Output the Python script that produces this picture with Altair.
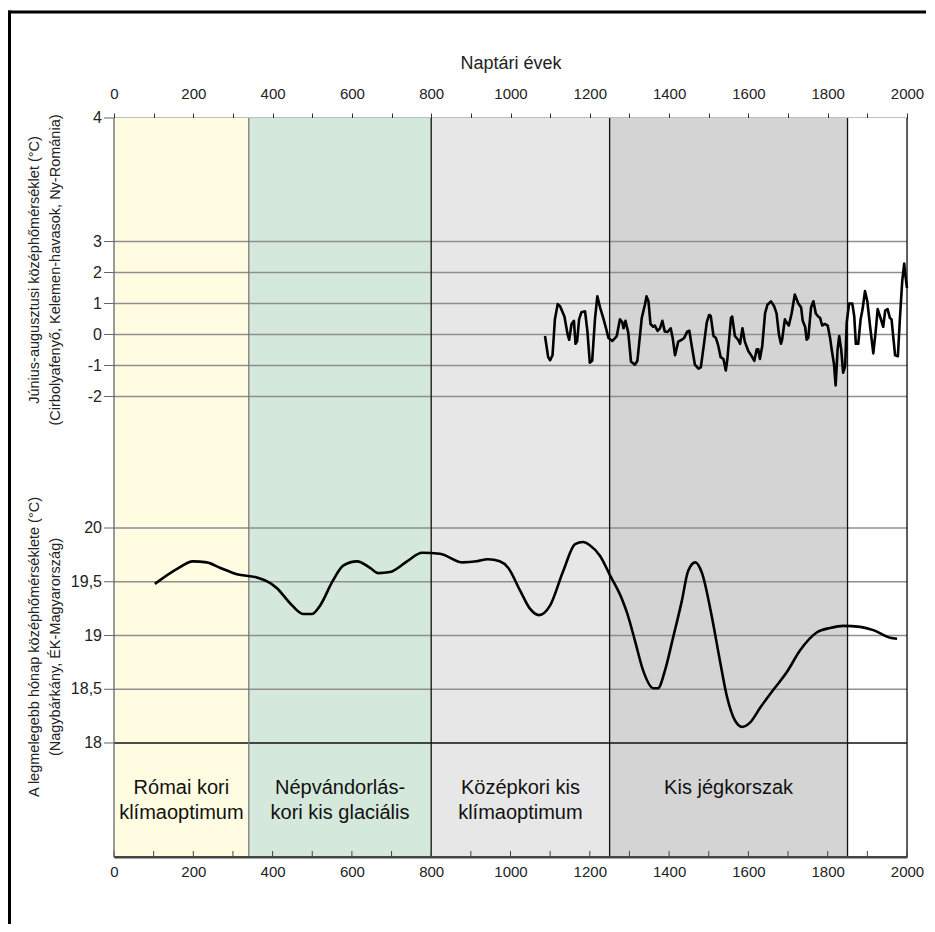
import altair as alt
import pandas as pd

# ---------------- data ----------------
# June-August mean temperature anomaly (Cirbolyafenyő, Kelemen-havasok)
years_top = [1087, 1095, 1100, 1106, 1112, 1119, 1125, 1136, 1144, 1148, 1154, 1160, 1164, 1168,
             1173, 1179, 1188, 1194, 1200, 1206, 1213, 1219, 1226, 1234, 1241, 1247, 1257, 1268,
             1276, 1282, 1285, 1290, 1297, 1304, 1314, 1320, 1331, 1339, 1343, 1348, 1353, 1360,
             1364, 1371, 1377, 1383, 1389, 1396, 1404, 1409, 1415, 1423, 1432, 1438, 1446, 1451,
             1457, 1465, 1474, 1480, 1488, 1495, 1501, 1505, 1512, 1518, 1524, 1530, 1537, 1543,
             1547, 1556, 1559, 1566, 1574, 1579, 1585, 1591, 1600, 1607, 1615, 1621, 1625, 1629,
             1635, 1642, 1648, 1657, 1665, 1671, 1677, 1682, 1685, 1692, 1696, 1702, 1709, 1717,
             1726, 1733, 1737, 1743, 1747, 1751, 1758, 1764, 1770, 1776, 1781, 1786, 1793, 1800,
             1806, 1810, 1816, 1820, 1825, 1829, 1834, 1839, 1844, 1848, 1854, 1862, 1867, 1871,
             1877, 1883, 1888, 1894, 1900, 1907, 1915, 1921, 1926, 1932, 1940, 1945, 1951, 1957,
             1961, 1970, 1977, 1982, 1988, 1993, 1996, 2000]
temp_top = [-0.05, -0.73, -0.83, -0.67, 0.49, 0.98, 0.91, 0.58, 0.0, -0.17, 0.34, 0.44, -0.3, -0.22,
            0.49, 0.72, 0.75, 0.1, -0.91, -0.85, 0.49, 1.23, 0.87, 0.53, 0.2, -0.11, -0.21, -0.05,
            0.49, 0.39, 0.2, 0.44, 0.06, -0.88, -0.97, -0.85, 0.53, 0.96, 1.23, 1.07, 0.34, 0.25,
            0.29, 0.12, 0.2, 0.44, 0.1, 0.08, 0.2, -0.11, -0.67, -0.23, -0.17, -0.11, 0.1, 0.12,
            -0.36, -0.97, -1.1, -1.06, -0.3, 0.39, 0.63, 0.6, -0.05, -0.11, -0.36, -0.73, -0.79, -1.16,
            -0.79, 0.53, 0.58, -0.05, -0.17, -0.3, 0.2, -0.23, -0.54, -0.67, -0.85, -0.48, -0.48, -0.79,
            -0.36, 0.68, 0.96, 1.07, 0.91, 0.68, 0.0, -0.3, -0.17, 0.49, 0.39, 0.29, 0.68, 1.29,
            1.0, 0.87, 0.44, 0.25, -0.17, -0.11, 0.87, 1.07, 0.68, 0.58, 0.53, 0.29, 0.34, 0.29,
            -0.11, -0.48, -0.97, -1.64, -0.48, -0.05, -0.48, -1.23, -1.03, 0.39, 1.0, 1.0, 0.58, -0.3,
            -0.3, 0.49, 0.82, 1.4, 1.07, 0.25, -0.61, 0.1, 0.82, 0.58, 0.25, 0.77, 0.82, 0.53,
            0.49, -0.67, -0.7, 0.49, 1.73, 2.29, 1.9, 1.5]

# Warmest month mean temperature (Nagybárkány)
years_bot = [103, 159, 199, 234, 267, 310, 360, 393, 411, 444, 477, 499, 520, 552, 578, 613, 646,
             666, 696, 739, 777, 822, 880, 915, 943, 973, 994, 1024, 1049, 1072, 1100, 1133, 1163,
             1183, 1200, 1226, 1251, 1281, 1294, 1314, 1334, 1360, 1372, 1390, 1410, 1432, 1448,
             1466, 1483, 1508, 1528, 1546, 1566, 1584, 1604, 1630, 1662, 1697, 1730, 1773, 1806,
             1839, 1882, 1915, 1957, 1975]
temp_bot = [19.48, 19.62, 19.69, 19.68, 19.63, 19.57, 19.54, 19.49, 19.44, 19.30, 19.20, 19.20,
            19.28, 19.51, 19.65, 19.69, 19.63, 19.58, 19.59, 19.69, 19.77, 19.76, 19.68, 19.69,
            19.71, 19.69, 19.63, 19.42, 19.25, 19.19, 19.28, 19.60, 19.85, 19.87, 19.84, 19.74,
            19.56, 19.34, 19.21, 18.95, 18.68, 18.51, 18.51, 18.68, 18.98, 19.32, 19.60, 19.68,
            19.58, 19.17, 18.77, 18.43, 18.21, 18.15, 18.19, 18.33, 18.49, 18.66, 18.86, 19.03,
            19.07, 19.09, 19.08, 19.05, 18.98, 18.97]

period_start = [0, 340, 800, 1250, 1850]
period_end = [340, 800, 1250, 1850, 2000]
period_label = ["Római kori\nklímaoptimum", "Népvándorlás-\nkori kis glaciális",
                "Középkori kis\nklímaoptimum", "Kis jégkorszak", ""]
period_mid = [170, 570, 1025, 1550, 1925]
period_color = ["#FFFCE1", "#D4E8DB", "#E7E7E7", "#D4D4D4", "#FFFFFF"]

boundary_years = [340, 800, 1250, 1850, 2000]
boundary_color = ["#7a7a7a", "#111111", "#111111", "#111111", "#111111"]

top_ticks = [3, 2, 1, 0, -1, -2]
top_tick_labels = ["3", "2", "1", "0", "-1", "-2"]
bot_ticks = [20, 19.5, 19, 18.5, 18]
bot_tick_labels = ["20", "19,5", "19", "18,5", "18"]
x_minor = list(range(0, 2001, 100))
x_major = list(range(0, 2001, 200))

title_top = ["Június-augusztusi középhőmérséklet (°C)", "(Cirbolyafenyő, Kelemen-havasok, Ny-Románia)"]
title_bot = ["A legmelegebb hónap középhőmérséklete (°C)", "(Nagybárkány, ÉK-Magyarország)"]

# ---------------- layout (broken axis: two panels on one scale) ----------------
H = 739
W = 793
TOP_ZERO, TOP_UNIT = 522.5, 31.0
BOT_BASE, BOT_UNIT = 114.0, 107.5
top_expr = f"{TOP_ZERO} + {TOP_UNIT} * datum.v"
bot_expr = f"{BOT_BASE} + {BOT_UNIT} * (datum.v - 18)"
pos_expr = f"datum.panel == 'top' ? ({top_expr}) : ({bot_expr})"

FONT = "Liberation Sans, Arial, sans-serif"

xscale = alt.Scale(domain=[0, 2000], nice=False, zero=False)
yscale = alt.Scale(domain=[0, H], nice=False, zero=False)
NOY = dict(scale=yscale, axis=None)

# y tick table (value, label, panel); the top "4" sits at the top of the broken axis
ytick_df = pd.DataFrame({
    "v": [None] + top_ticks + bot_ticks,
    "label": ["4"] + top_tick_labels + bot_tick_labels,
    "panel": ["cap"] + ["top"] * len(top_ticks) + ["bot"] * len(bot_ticks),
})
ytick_pos = f"datum.panel == 'cap' ? {H} : ({pos_expr})"

# ---------------- layers ----------------
bands_df = pd.DataFrame({"start": period_start, "end": period_end, "color": period_color,
                         "lo": [0] * 5, "hi": [H] * 5})
bands = alt.Chart(bands_df).mark_rect().encode(
    x=alt.X("start:Q", scale=xscale, axis=alt.Axis(
        orient="top", values=x_minor, format="d",
        labelExpr="datum.value % 200 == 0 ? datum.label : ''",
        title="Naptári évek", titleFont=FONT, titleFontSize=18, titleFontWeight="normal",
        titleColor="#222", titlePadding=14,
        labelFont=FONT, labelFontSize=15, labelColor="#222", labelPadding=12,
        labelFlush=False, labelOverlap=False,
        tickSize=5, tickColor="#333", tickWidth=1,
        domainColor="#000", domainWidth=1.5, grid=False)),
    x2="end:Q",
    y=alt.Y("lo:Q", **NOY),
    y2="hi:Q",
    color=alt.Color("color:N", scale=None),
)

grid_df = pd.DataFrame({"v": top_ticks + bot_ticks[:-1],
                        "panel": ["top"] * len(top_ticks) + ["bot"] * (len(bot_ticks) - 1)})
grid = alt.Chart(grid_df).transform_calculate(pos=pos_expr).mark_rule(
    color="#8f8f8f", strokeWidth=1.3).encode(
    x=alt.X(datum=0, scale=xscale, axis=None), x2=alt.X2(datum=2000),
    y=alt.Y("pos:Q", **NOY),
)

base18 = alt.Chart(pd.DataFrame({"v": [18], "panel": ["bot"]})).transform_calculate(
    pos=pos_expr).mark_rule(color="#111", strokeWidth=1.3).encode(
    x=alt.X(datum=0, scale=xscale, axis=None), x2=alt.X2(datum=2000),
    y=alt.Y("pos:Q", **NOY))

bnd = alt.Chart(pd.DataFrame({"year": boundary_years, "c": boundary_color,
                              "lo": [0] * 5, "hi": [H] * 5})).mark_rule(strokeWidth=1.3).encode(
    x=alt.X("year:Q", scale=xscale, axis=None),
    y=alt.Y("lo:Q", **NOY), y2="hi:Q",
    color=alt.Color("c:N", scale=None))

bticks = alt.Chart(pd.DataFrame({"year": x_minor, "lo": [0] * len(x_minor),
                                 "hi": [6] * len(x_minor)})).mark_rule(
    color="#444", strokeWidth=1).encode(
    x=alt.X("year:Q", scale=xscale, axis=None),
    y=alt.Y("lo:Q", **NOY), y2="hi:Q")

# manual left axis (domain, ticks, labels) on the shared broken scale
ydomain = alt.Chart(pd.DataFrame({"lo": [0], "hi": [H]})).mark_rule(
    color="#666", strokeWidth=1.3).encode(
    x=alt.value(0), y=alt.Y("lo:Q", **NOY), y2="hi:Q")
yticks = alt.Chart(ytick_df).transform_calculate(pos=ytick_pos).mark_rule(
    color="#666", strokeWidth=1).encode(
    x=alt.value(-10), x2=alt.value(0), y=alt.Y("pos:Q", **NOY))
ylabels = alt.Chart(ytick_df).transform_calculate(pos=ytick_pos).mark_text(
    font=FONT, fontSize=16, color="#222", align="right", baseline="middle", dx=-12).encode(
    x=alt.value(0), y=alt.Y("pos:Q", **NOY), text="label:N")

xbase = alt.Chart(pd.DataFrame({"lo": [0]})).mark_rule(color="#444", strokeWidth=2).encode(
    x=alt.X(datum=0, scale=xscale, axis=None), x2=alt.X2(datum=2000),
    y=alt.Y("lo:Q", **NOY))

top_line = alt.Chart(pd.DataFrame({"year": years_top, "v": temp_top, "panel": "top"})
                     ).transform_calculate(pos=pos_expr).mark_line(
    color="#000", strokeWidth=2.6, strokeJoin="round").encode(
    x=alt.X("year:Q", scale=xscale, axis=alt.Axis(
        orient="bottom", values=x_major, format="d",
        labelFont=FONT, labelFontSize=15, labelColor="#222", labelPadding=7,
        labelFlush=False, labelOverlap=False, ticks=False,
        domainColor="#444", domainWidth=2, grid=False, title=None)),
    y=alt.Y("pos:Q", **NOY),
)

bot_line = alt.Chart(pd.DataFrame({"year": years_bot, "v": temp_bot, "panel": "bot"})
                     ).transform_calculate(pos=pos_expr).mark_line(
    color="#000", strokeWidth=2.6, interpolate="monotone").encode(
    x=alt.X("year:Q", scale=xscale, axis=None),
    y=alt.Y("pos:Q", **NOY),
)

lab_df = pd.DataFrame({"mid": period_mid, "label": period_label, "pos": [69.5] * 5})
labels = alt.Chart(lab_df).mark_text(
    font=FONT, fontSize=20, color="#111", lineBreak="\n", lineHeight=25,
    baseline="middle", align="center").encode(
    x=alt.X("mid:Q", scale=xscale, axis=None),
    y=alt.Y("pos:Q", **NOY),
    text="label:N")

ttl_df = pd.DataFrame({"t": title_top + title_bot, "pos": [587, 587, 210, 210],
                       "col": [-79, -58, -79, -58]})
titles = alt.Chart(ttl_df).mark_text(
    font=FONT, fontSize=14.5, color="#222", angle=270, baseline="middle", align="center").encode(
    x=alt.X("col:Q", scale=None, axis=None),
    y=alt.Y("pos:Q", **NOY),
    text="t:N")

frame_top = alt.Chart(pd.DataFrame({"a": [0]})).mark_rule(color="#000", strokeWidth=3).encode(
    x=alt.value(-106), x2=alt.value(812), y=alt.value(-106))
frame_left = alt.Chart(pd.DataFrame({"a": [0]})).mark_rule(color="#000", strokeWidth=3).encode(
    x=alt.value(-104.5), y=alt.value(-107.5), y2=alt.value(806))

chart = alt.layer(
    bands, grid, base18, bnd, bticks, xbase, ydomain, yticks, ylabels,
    bot_line, top_line, labels, titles, frame_top, frame_left
).resolve_axis(x="independent").properties(
    width=W, height=H,
    autosize=alt.AutoSizeParams(type="none"),
    padding={"left": 106, "top": 110, "right": 19, "bottom": 67},
).configure_view(stroke=None).configure(background="#ffffff")

chart.save("out.html", embed_options={"renderer": "svg", "actions": False})
